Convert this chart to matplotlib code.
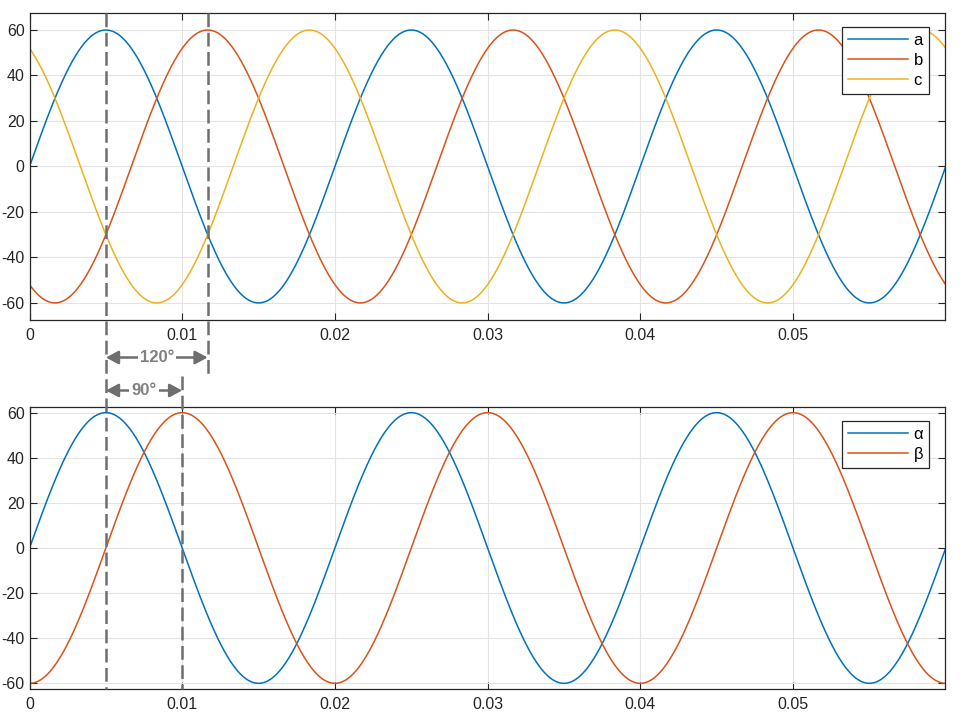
import numpy as np
import matplotlib
matplotlib.use("Agg")
import matplotlib.pyplot as plt
from matplotlib.transforms import blended_transform_factory

plt.rcParams['font.family'] = ['Liberation Sans', 'DejaVu Sans']
plt.rcParams['axes.unicode_minus'] = False

# waveform parameters
amplitude = 60.0
freq_hz = 50.0
t_end = 0.06
abc_names = ['a', 'b', 'c']
abc_phase_deg = [0, -120, 120]
ab_names = ['\u03b1', '\u03b2']
ab_phase_deg = [0, -90]

xticks = [0, 0.01, 0.02, 0.03, 0.04, 0.05]
xtick_labels = ['0', '0.01', '0.02', '0.03', '0.04', '0.05']
yticks = [-60, -40, -20, 0, 20, 40, 60]

# annotation markers (time of a peak, b peak, beta zero crossing)
t_peak_a = 0.005
t_peak_b = 0.005 + 0.02 / 3
t_beta = 0.01

colors = ['#0072BD', '#D95319', '#EDB120']
gray = '#6e6e6e'

t = np.linspace(0, t_end, 2401)
w = 2 * np.pi * freq_hz

fig = plt.figure(figsize=(9.68, 7.2), dpi=100)
ax1 = fig.add_axes([0.0305, 0.5556, 0.9457, 0.4264])
ax2 = fig.add_axes([0.0305, 0.0431, 0.9457, 0.3916])

for name, ph, c in zip(abc_names, abc_phase_deg, colors):
    ax1.plot(t, amplitude * np.sin(w * t + np.deg2rad(ph)), color=c, lw=1.1, label=name)
for name, ph, c in zip(ab_names, ab_phase_deg, colors):
    ax2.plot(t, amplitude * np.sin(w * t + np.deg2rad(ph)), color=c, lw=1.1, label=name)

for ax, ylim, ly in [(ax1, (-67.5, 67.5), 0.954), (ax2, (-62.5, 62.5), 0.950)]:
    ax.set_xlim(0, t_end - 0.00005)
    ax.set_ylim(*ylim)
    ax.set_xticks(xticks)
    ax.set_xticklabels(xtick_labels)
    ax.set_yticks(yticks)
    ax.grid(True, color='#e3e3e3', lw=0.8)
    ax.set_axisbelow(True)
    ax.tick_params(direction='in', top=True, right=True, length=5,
                   labelsize=11.5, colors='#262626', pad=3.5)
    ax.tick_params(axis='x', pad=6)
    for s in ax.spines.values():
        s.set_color('#262626')
        s.set_linewidth(0.9)
    leg = ax.legend(loc='upper right', bbox_to_anchor=(0.9825, ly),
                    borderaxespad=0, fancybox=False, framealpha=1,
                    edgecolor='#262626', fontsize=12, handlelength=3.6,
                    borderpad=0.35, labelspacing=0.3, handletextpad=0.35)
    leg.get_frame().set_linewidth(0.9)

# dashed guide lines spanning both plots
tr = blended_transform_factory(ax1.transData, fig.transFigure)
dash = dict(color=gray, lw=1.8, dashes=(5.5, 2.2), transform=tr, clip_on=False)
fig.lines.append(plt.Line2D([t_peak_a, t_peak_a], [1 - 13 / 720, 1 - 689 / 720], **dash))
fig.lines.append(plt.Line2D([t_peak_b, t_peak_b], [1 - 13 / 720, 1 - 376 / 720], **dash))
fig.lines.append(plt.Line2D([t_beta, t_beta], [1 - 376 / 720, 1 - 689 / 720], **dash))

# phase arrows
for x0, x1, yf, label in [(t_peak_a, t_peak_b, 1 - 357.5 / 720, '120\u00b0'),
                          (t_peak_a, t_beta, 1 - 390.5 / 720, '90\u00b0')]:
    fig.patches.append(matplotlib.patches.FancyArrowPatch(
        (x0, yf), (x1, yf), transform=tr, arrowstyle='<|-|>,head_length=7.5,head_width=4',
        color=gray, lw=1.8, shrinkA=0, shrinkB=0))
    fig.text((x0 + x1) / 2, yf, label, transform=tr, ha='center', va='center',
             fontsize=12, fontweight='bold', color='#808080',
             bbox=dict(facecolor='white', edgecolor='none', pad=1.5))

fig.savefig('out.png', dpi=100)
